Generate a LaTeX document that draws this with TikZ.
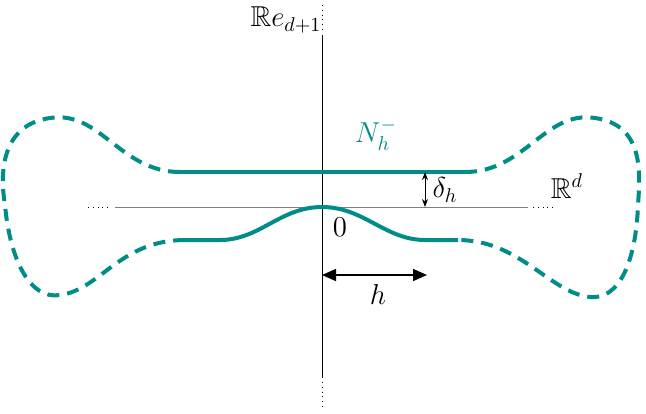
\documentclass[tikz,border=0pt]{standalone}
\usepackage{amssymb}
\usetikzlibrary{arrows.meta}
\definecolor{tl}{RGB}{0,140,135}
\begin{document}
\begin{tikzpicture}[x=0.5pt,y=-0.5pt,
  curve/.style={tl,line width=2pt},
  dcurve/.style={tl,line width=2pt,dash pattern=on 6pt off 4pt},
  lab/.style={inner sep=1pt,font=\Large}]
\useasboundingbox (0,0) rectangle (646,413);
\coordinate (vt) at (322,35); \coordinate (vb) at (322,378);
\draw[black] (vt) -- (vb);
\draw[dotted] (322,5) -- (322,30);
\draw[dotted] (322,382) -- (322,408);
\coordinate (hl) at (115,207); \coordinate (hr) at (528,207);
\draw[gray] (hl) -- (hr);
\draw[dotted] (88,207) -- (110,207);
\draw[dotted] (533,207) -- (556,207);
\coordinate (a) at (180,172); \coordinate (b) at (465,172);
\coordinate (c) at (185,240); \coordinate (d) at (458,240);
\draw[curve] (a) -- (b);
\draw[curve] (c) -- (220,240) .. controls (260,240) and (280,207) .. (322,207)
  .. controls (364,207) and (385,240) .. (425,240) -- (d);
\draw[dcurve] (a) .. controls (120,172) and (100,110) .. (50,118)
  .. controls (0,125) and (0,175) .. (5,205)
  .. controls (10,260) and (30,300) .. (60,295)
  .. controls (100,290) and (120,240) .. (c);
\draw[dcurve] (b) .. controls (525,172) and (545,110) .. (595,118)
  .. controls (645,125) and (640,175) .. (638,205)
  .. controls (636,260) and (620,300) .. (590,297)
  .. controls (550,293) and (520,240) .. (d);
\node[lab,text=tl] (N) at (376,135) {$N_h^-$};
\node[lab] (Rd) at (567,186) {$\mathbb{R}^d$};
\node[lab] (Re) at (286,20) {$\mathbb{R}e_{d+1}$};
\node[lab] (z) at (340,227) {$0$};
\coordinate (d1) at (425,172); \coordinate (d2) at (425,207);
\draw[{Stealth[length=4pt,width=3pt]}-{Stealth[length=4pt,width=3pt]},thin] (d1) -- (d2);
\node[lab] (dl) at (445,190) {$\delta_h$};
\coordinate (h1) at (322,275); \coordinate (h2) at (427,275);
\draw[{Triangle[length=7pt,width=6pt]}-{Triangle[length=7pt,width=6pt]},thick] (h1) -- (h2);
\node[lab] (hl2) at (378,294) {$h$};
\end{tikzpicture}
\end{document}
